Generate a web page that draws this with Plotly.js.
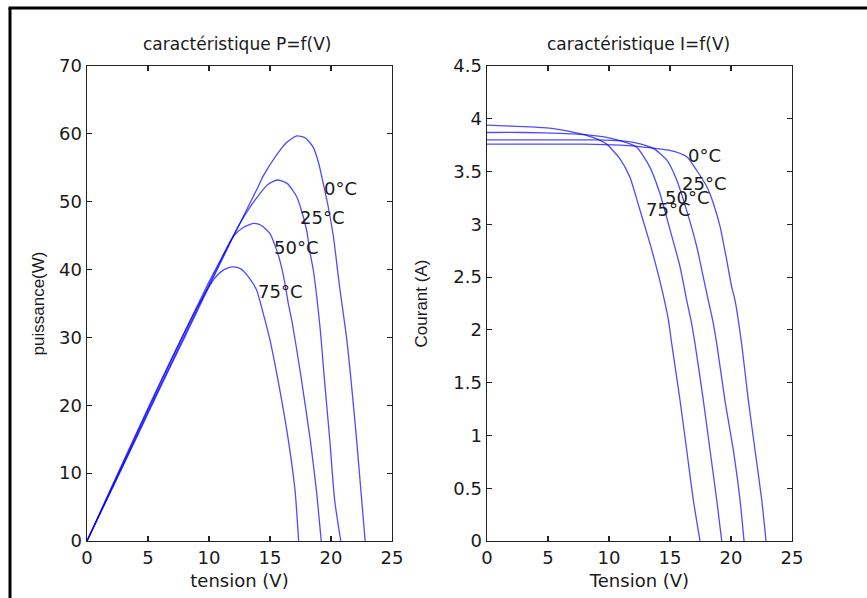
<!DOCTYPE html>
<html>
<head>
<meta charset="utf-8">
<script src="https://cdn.plot.ly/plotly-3.0.1.min.js"></script>
<style>html,body{margin:0;padding:0;background:#fff;}#chart{width:867px;height:598px;}</style>
</head>
<body>
<div id="chart"></div>
<script>
// ---- Data ----
const temperatures = ["0°C", "25°C", "50°C", "75°C"];

// P = f(V)
const pV_0  = [0,2,4,6,8,10,12,14,14.45,15.5,16.4,17.2,17.9,18.55,19.0,19.4,19.8,20.2,20.7,21.3,22.1,22.8];
const pP_0  = [0,7.5,15.0,22.6,30.0,37.5,44.9,52.1,53.8,56.8,58.8,59.7,59.4,58.0,55.6,52.4,49.0,44.8,37.5,29.6,14.9,0];
const pV_25 = [0,2,4,6,8,10,12,13,14,14.8,15.6,16.4,17.2,17.6,18,18.3,18.55,19.1,19.5,19.9,20.3,20.8];
const pP_25 = [0,7.6,15.2,22.8,30.3,37.8,45.0,48.2,50.8,52.5,53.2,52.7,50.7,48.6,45.8,42.3,39.9,31.5,23.0,14.9,6.0,0];
const pV_50 = [0,2,4,6,8,10,11,12,12.8,13.65,14.3,15,15.4,15.8,16.2,16.5,16.8,17.5,18.3,18.8,19.2];
const pP_50 = [0,7.7,15.5,23.2,30.8,38.2,41.6,44.9,46.2,46.8,46.5,45.3,43.6,41.4,38.2,35.0,32.4,24.7,14.9,7.5,0];
const pV_75 = [0,2,4,6,8,9,10,10.5,11,11.5,12,12.6,13.2,13.9,14.45,15,15.8,16.5,17.05,17.35];
const pP_75 = [0,7.9,15.7,23.4,30.8,34.3,37.5,38.8,39.7,40.2,40.4,40.1,39.0,37.0,33.5,29.6,22.3,14.9,7.5,0];

// I = f(V)
const iV_0  = [0,4,8,10.9,13,15.0,16.37,17.19,18.0,18.55,19.1,19.65,20.05,20.33,20.87,21.42,21.97,22.52,22.87];
const iI_0  = [3.76,3.76,3.76,3.75,3.73,3.70,3.64,3.51,3.36,3.20,2.98,2.66,2.41,2.28,1.87,1.335,0.86,0.39,0];
const iV_25 = [0,3,6,9,11,12.27,13.63,14.73,15.55,16.37,17.19,17.73,18.14,18.5,18.83,19.5,20.19,20.74,21.07];
const iI_25 = [3.80,3.80,3.80,3.80,3.79,3.77,3.72,3.61,3.42,3.13,2.79,2.50,2.28,2.09,1.87,1.335,0.86,0.39,0];
const iV_50 = [0,3,6.5,8,10,11,12.27,13.36,14.18,15.0,15.82,16.37,16.72,17.05,17.73,18.28,18.83,19.24];
const iI_50 = [3.87,3.87,3.86,3.85,3.82,3.79,3.73,3.54,3.29,2.95,2.60,2.28,2.09,1.87,1.335,0.86,0.39,0];
const iV_75 = [0,2,4,5.3,7.6,9,9.8,10.9,11.7,12.5,13.4,14.2,14.86,15.14,15.82,16.37,16.91,17.46];
const iI_75 = [3.94,3.93,3.92,3.91,3.86,3.81,3.76,3.62,3.45,3.15,2.80,2.45,2.10,1.87,1.335,0.86,0.39,0];

// label anchors (data coords)
const pLabelV = [20.74, 19.3, 17.1, 15.8];
const pLabelP = [52.0, 47.7, 43.2, 36.7];
const iLabelV = [17.8, 17.8, 16.4, 14.84];
const iLabelI = [3.655, 3.39, 3.255, 3.14];

const xTicks = [0,5,10,15,20,25];
const pTicks = [0,10,20,30,40,50,60,70];
const iTicks = [0,0.5,1,1.5,2,2.5,3,3.5,4,4.5];

// ---- Build chart ----
const W = 867, H = 598;
const lineStyle = {color: 'rgba(0,0,255,0.7)', width: 1.3, shape:'spline', smoothing:0.6};
const pSets = [[pV_0,pP_0],[pV_25,pP_25],[pV_50,pP_50],[pV_75,pP_75]];
const iSets = [[iV_0,iI_0],[iV_25,iI_25],[iV_50,iI_50],[iV_75,iI_75]];
const traces = [];
pSets.forEach((s,k)=>traces.push({x:s[0], y:s[1], xaxis:'x', yaxis:'y', mode:'lines', line:lineStyle, name:temperatures[k], hoverinfo:'x+y'}));
iSets.forEach((s,k)=>traces.push({x:s[0], y:s[1], xaxis:'x2', yaxis:'y2', mode:'lines', line:lineStyle, name:temperatures[k], hoverinfo:'x+y'}));

const txt = '#1a1a1a';
const tickFont = {family:'DejaVu Sans', size:18, color:txt};
const axisBase = {
  showgrid:false, zeroline:false, showline:true, linecolor:'#222', linewidth:1.4,
  mirror:'ticks', ticks:'inside', ticklen:5, tickwidth:1.2, tickcolor:'#222',
  tickfont:tickFont, automargin:false, fixedrange:true
};
const px = v => v / W, py = v => 1 - v / H;

const annotations = [];
pLabelV.forEach((v,k)=>annotations.push({x:v, y:pLabelP[k], xref:'x', yref:'y', xanchor:'center', yanchor:'middle', text:temperatures[k], showarrow:false, font:{family:'DejaVu Sans', size:18, color:txt}}));
iLabelV.forEach((v,k)=>annotations.push({x:v, y:iLabelI[k], xref:'x2', yref:'y2', xanchor:'center', yanchor:'middle', text:temperatures[k], showarrow:false, font:{family:'DejaVu Sans', size:18, color:txt}}));
annotations.push({x:px(237), y:py(44), xref:'paper', yref:'paper', xanchor:'center', yanchor:'middle', text:'caractéristique P=f(V)', showarrow:false, font:{family:'DejaVu Sans', size:17, color:txt}});
annotations.push({x:px(638), y:py(44), xref:'paper', yref:'paper', xanchor:'center', yanchor:'middle', text:'caractéristique I=f(V)', showarrow:false, font:{family:'DejaVu Sans', size:17, color:txt}});

const layout = {
  width:W, height:H, margin:{l:0,r:0,t:0,b:0}, showlegend:false,
  paper_bgcolor:'#fff', plot_bgcolor:'#fff',
  xaxis: Object.assign({}, axisBase, {domain:[px(87),px(392)], range:[0,25], tickvals:xTicks, anchor:'y',
    title:{text:'tension (V)', font:{family:'DejaVu Sans', size:18, color:txt}, standoff:7}}),
  yaxis: Object.assign({}, axisBase, {domain:[py(541),py(66)], range:[0,70], tickvals:pTicks, anchor:'x',
    title:{text:'puissance(W)', font:{family:'Liberation Sans', size:17, color:txt}, standoff:10}}),
  xaxis2: Object.assign({}, axisBase, {domain:[px(487),px(792)], range:[0,25], tickvals:xTicks, anchor:'y2',
    title:{text:'Tension (V)', font:{family:'DejaVu Sans', size:18, color:txt}, standoff:7}}),
  yaxis2: Object.assign({}, axisBase, {domain:[py(541),py(66)], range:[0,4.5], tickvals:iTicks, anchor:'x2',
    title:{text:'Courant (A)', font:{family:'Liberation Sans', size:17, color:txt}, standoff:21}}),
  annotations: annotations,
  shapes: [
    {type:'line', xref:'paper', yref:'paper', x0:px(10), x1:px(10), y0:-0.05, y1:py(8), line:{color:'#000', width:3}},
    {type:'line', xref:'paper', yref:'paper', x0:px(8.5), x1:1.05, y0:py(8), y1:py(8), line:{color:'#000', width:3}}
  ]
};
Plotly.newPlot('chart', traces, layout, {staticPlot:true, displayModeBar:false});
</script>
</body>
</html>
